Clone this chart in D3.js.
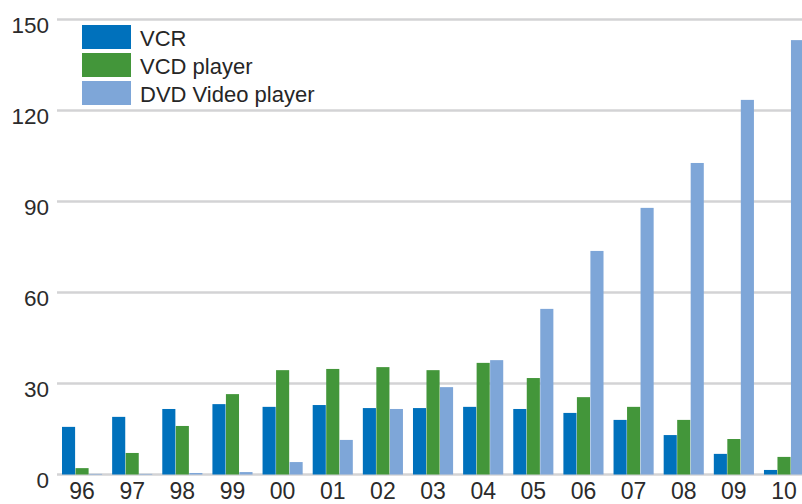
<!DOCTYPE html>
<html lang="en">
<head>
<meta charset="utf-8"/>
<title>VCR / VCD / DVD</title>
<script src="https://d3js.org/d3.v7.min.js"></script>
<style>
  html, body { margin: 0; padding: 0; background: #fff; }
  svg { display: block; font-family: "Liberation Sans", Arial, sans-serif; }
</style>
</head>
<body>
<div id="chart"></div>
<script>
  // data
  const years = ["96", "97", "98", "99", "00", "01", "02", "03", "04", "05", "06", "07", "08", "09", "10"];
  const seriesNames = ["VCR", "VCD player", "DVD Video player"];
  const vcr = [15.7, 19.0, 21.6, 23.2, 22.3, 22.9, 21.9, 21.9, 22.3, 21.6, 20.3, 18.0, 13.0, 6.8, 1.5];
  const vcd = [2.1, 7.1, 16.0, 26.5, 34.4, 34.8, 35.4, 34.4, 36.8, 31.8, 25.5, 22.3, 18.0, 11.7, 5.8];
  const dvd = [0.2, 0.2, 0.5, 0.8, 4.1, 11.4, 21.6, 28.8, 37.7, 54.6, 73.7, 87.9, 102.7, 123.5, 143.2];
  const yTicks = [0, 30, 60, 90, 120, 150];
  const colors = ["#0071bc", "#43963a", "#7ea6d8"];

  const width = 802, height = 504;
  const values = [vcr, vcd, dvd];

  const svg = d3.select('#chart').append('svg')
      .attr('width', width)
      .attr('height', height);

  const y = d3.scaleLinear()
      .domain([0, 150])
      .range([474.5, 19.5]);

  const step = 50.14;
  const x0 = d3.scaleBand()
      .domain(years)
      .range([62, 62 + step * (years.length - 0.2)])
      .paddingInner(0.2)
      .paddingOuter(0);

  const x1 = d3.scaleBand()
      .domain(seriesNames)
      .range([0, x0.bandwidth()])
      .paddingInner(0.03);

  // gridlines
  svg.append('g')
      .selectAll('line')
      .data(yTicks)
      .enter().append('line')
      .attr('x1', 57)
      .attr('x2', width)
      .attr('y1', d => y(d))
      .attr('y2', d => y(d))
      .attr('stroke', '#d3d3d5')
      .attr('stroke-width', 2.6);

  // y tick labels
  svg.append('g')
      .selectAll('text')
      .data(yTicks)
      .enter().append('text')
      .attr('x', 49)
      .attr('y', d => y(d) + 13.5)
      .attr('text-anchor', 'end')
      .attr('fill', '#2b2b2b')
      .style('font-size', '22.5px')
      .text(d => d);

  // bars
  const groups = svg.append('g')
      .selectAll('g')
      .data(years)
      .enter().append('g')
      .attr('transform', d => `translate(${x0(d)},0)`);

  groups.selectAll('rect')
      .data((d, i) => seriesNames.map((s, k) => ({series: s, k: k, value: values[k][i]})))
      .enter().append('rect')
      .attr('x', d => x1(d.series))
      .attr('y', d => y(d.value))
      .attr('width', x1.bandwidth())
      .attr('height', d => y(0) - y(d.value))
      .attr('fill', d => colors[d.k]);

  // x labels
  svg.append('g')
      .selectAll('text')
      .data(years)
      .enter().append('text')
      .attr('x', d => x0(d) + x0.bandwidth() / 2)
      .attr('y', 499)
      .attr('text-anchor', 'middle')
      .attr('fill', '#2b2b2b')
      .style('font-size', '23px')
      .text(d => d);

  // legend
  const legend = svg.append('g')
      .selectAll('g')
      .data(seriesNames)
      .enter().append('g')
      .attr('transform', (d, i) => `translate(82,${25 + i * 28})`);

  legend.append('rect')
      .attr('width', 49)
      .attr('height', 24)
      .attr('fill', (d, i) => colors[i]);

  legend.append('text')
      .attr('x', 58)
      .attr('y', 20.5)
      .attr('fill', '#262626')
      .style('font-size', '22px')
      .text(d => d);
</script>
</body>
</html>
